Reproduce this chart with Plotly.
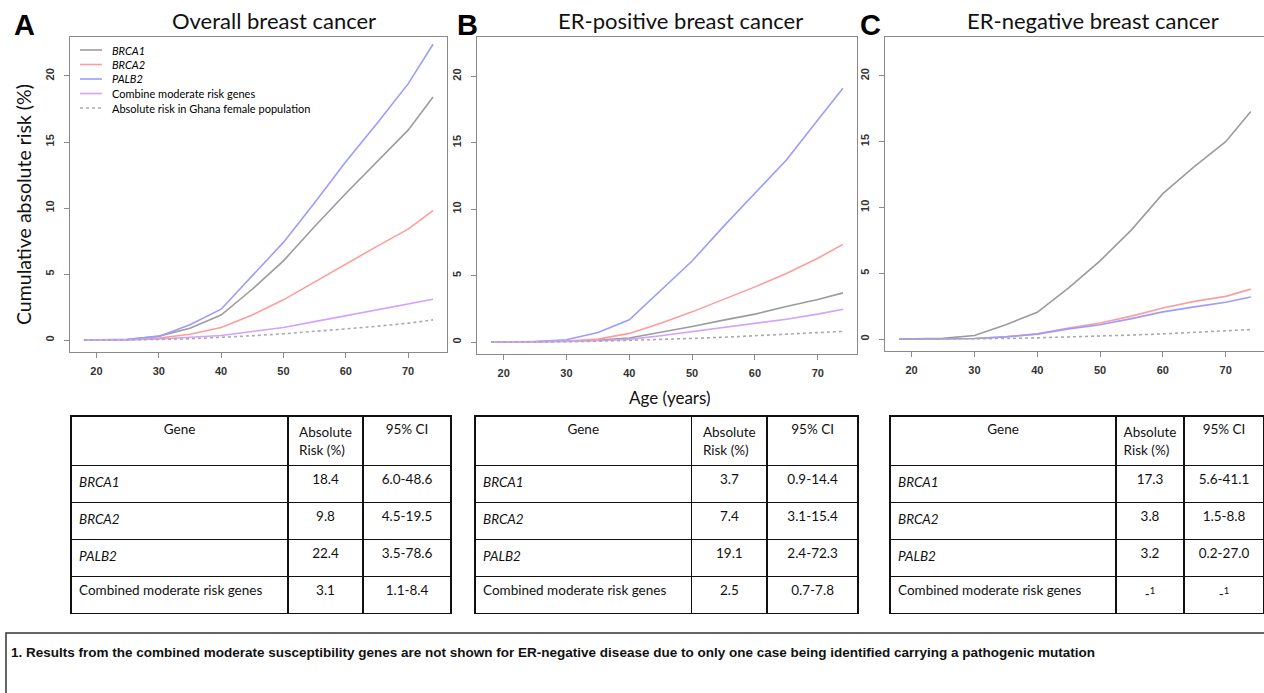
import plotly.graph_objects as go

W, H = 1264, 693

ages = [18, 20, 25, 30, 35, 40, 45, 50, 55, 60, 65, 70, 74]

# Panel A: overall breast cancer
a_brca1 = [0, 0.01, 0.05, 0.3, 0.9, 1.9, 3.85, 6.0, 8.6, 11.1, 13.5, 15.9, 18.4]
a_brca2 = [0, 0.01, 0.04, 0.15, 0.45, 0.96, 1.9, 3.05, 4.4, 5.8, 7.1, 8.4, 9.8]
a_palb2 = [0, 0.01, 0.06, 0.28, 1.16, 2.34, 4.85, 7.4, 10.4, 13.5, 16.4, 19.4, 22.4]
a_comb = [0, 0.0, 0.02, 0.08, 0.2, 0.35, 0.65, 0.95, 1.4, 1.85, 2.3, 2.7, 3.1]
a_ghana = [0, 0, 0.01, 0.05, 0.1, 0.2, 0.33, 0.48, 0.65, 0.85, 1.05, 1.28, 1.53]

# Panel B: ER-positive
b_brca1 = [0, 0, 0.02, 0.06, 0.15, 0.3, 0.72, 1.17, 1.65, 2.1, 2.67, 3.2, 3.7]
b_brca2 = [0, 0, 0.02, 0.08, 0.22, 0.65, 1.42, 2.27, 3.2, 4.15, 5.15, 6.3, 7.35]
b_palb2 = [0, 0, 0.03, 0.17, 0.72, 1.67, 3.85, 6.1, 8.7, 11.2, 13.7, 16.7, 19.1]
b_comb = [0, 0, 0.01, 0.05, 0.1, 0.2, 0.47, 0.77, 1.1, 1.42, 1.72, 2.1, 2.47]
b_ghana = [0, 0, 0.005, 0.02, 0.06, 0.12, 0.19, 0.27, 0.36, 0.47, 0.58, 0.69, 0.8]

# Panel C: ER-negative
c_brca1 = [0, 0.01, 0.06, 0.28, 1.1, 2.04, 3.9, 5.95, 8.3, 11.05, 13.1, 15.0, 17.3]
c_brca2 = [0, 0, 0.01, 0.05, 0.18, 0.4, 0.85, 1.23, 1.75, 2.37, 2.87, 3.25, 3.8]
c_palb2 = [0, 0, 0.01, 0.05, 0.17, 0.38, 0.78, 1.1, 1.56, 2.07, 2.45, 2.8, 3.2]
c_ghana = [0, 0, 0.005, 0.02, 0.05, 0.1, 0.16, 0.23, 0.31, 0.4, 0.5, 0.61, 0.73]

series_names = ["BRCA1", "BRCA2", "PALB2", "Combine moderate risk genes",
                "Absolute risk in Ghana female population"]
series_colors = ["#9c9c9c", "#ff9c9c", "#9c9cff", "#d2a2ff", "#aaaaaa"]
series_dash = ["solid", "solid", "solid", "solid", "dot"]

panel_titles = ["Overall breast cancer", "ER-positive breast cancer", "ER-negative breast cancer"]
panel_letters = ["A", "B", "C"]
x_ticks = [20, 30, 40, 50, 60, 70]
y_ticks = [0, 5, 10, 15, 20]

# Tables
table_header = ["Gene", "Absolute<br>Risk (%)", "95% CI"]
genes = ["<i>BRCA1</i>", "<i>BRCA2</i>", "<i>PALB2</i>", "Combined moderate risk genes"]
a_risk = ["18.4", "9.8", "22.4", "3.1"]
a_ci = ["6.0-48.6", "4.5-19.5", "3.5-78.6", "1.1-8.4"]
b_risk = ["3.7", "7.4", "19.1", "2.5"]
b_ci = ["0.9-14.4", "3.1-15.4", "2.4-72.3", "0.7-7.8"]
c_risk = ["17.3", "3.8", "3.2", "-<sup>1</sup>"]
c_ci = ["5.6-41.1", "1.5-8.8", "0.2-27.0", "-<sup>1</sup>"]

footnote = ("1. Results from the combined moderate susceptibility genes are not shown for "
            "ER-negative disease due to only one case being identified carrying a pathogenic mutation")


def px(x):
    return x / W


def py(y):
    return 1 - y / H


fig = go.Figure()

panels = [
    ("x", "y", [a_brca1, a_brca2, a_palb2, a_comb, a_ghana]),
    ("x2", "y2", [b_brca1, b_brca2, b_palb2, b_comb, b_ghana]),
    ("x3", "y3", [c_brca1, c_brca2, c_palb2, None, c_ghana]),
]
for xa, ya, data in panels:
    for i, vals in enumerate(data):
        if vals is None:
            continue
        fig.add_trace(go.Scatter(
            x=ages, y=vals, mode="lines", name=series_names[i], showlegend=False,
            line=dict(color=series_colors[i], width=1.6, dash=series_dash[i]),
            xaxis=xa, yaxis=ya, hoverinfo="skip"))

# axes
x_domains = [(70, 447), (477, 857), (885, 1264)]
x_ranges = [(15.76, 76.24), (15.76, 76.24), (15.76, 76.1)]
y_domains = [(37, 352), (37, 354), (37, 351)]
tickfont = dict(family="Liberation Sans", size=11, color="#333333", weight="bold")
axis_common = dict(showline=True, mirror=True, linecolor="#8a8a8a", linewidth=1,
                   ticks="outside", ticklen=5, tickcolor="#8a8a8a", showgrid=False,
                   zeroline=False, tickfont=tickfont)
for k in range(3):
    sx = "" if k == 0 else str(k + 1)
    fig.layout["xaxis" + sx] = dict(
        domain=[px(x_domains[k][0]), px(x_domains[k][1])], range=list(x_ranges[k]),
        anchor="y" + sx, tickvals=x_ticks, ticklabelstandoff=4, **axis_common)
    fig.layout["yaxis" + sx] = dict(
        domain=[py(y_domains[k][1]), py(y_domains[k][0])], range=[-0.9, 22.95],
        anchor="x" + sx, tickvals=y_ticks, tickangle=-90, ticklabelstandoff=6, **axis_common)

annotations = []
title_centers = [274, 680, 1093]
letter_centers = [24, 467, 870]
for k in range(3):
    annotations.append(dict(x=px(title_centers[k]), y=py(21), xref="paper", yref="paper",
                            text=panel_titles[k], showarrow=False, xanchor="center",
                            yanchor="middle",
                            font=dict(family="Lato", size=22, color="#111111")))
    annotations.append(dict(x=px(letter_centers[k]), y=py(25), xref="paper", yref="paper",
                            text=panel_letters[k], showarrow=False, xanchor="center",
                            yanchor="middle",
                            font=dict(family="Liberation Sans", size=29, color="#000000",
                                      weight="bold")))

annotations.append(dict(x=px(24), y=py(205), xref="paper", yref="paper",
                        text="Cumulative absolute risk (%)", textangle=-90, showarrow=False,
                        xanchor="center", yanchor="middle",
                        font=dict(family="Lato", size=19.5, color="#111111")))
annotations.append(dict(x=px(670), y=py(397), xref="paper", yref="paper",
                        text="Age (years)", showarrow=False, xanchor="center", yanchor="middle",
                        font=dict(family="Lato", size=17, color="#111111")))

# legend (panel A, top-left)
shapes = []
leg_y = [50, 64.5, 79, 93.5, 108]
for i, name in enumerate(series_names):
    shapes.append(dict(type="line", xref="paper", yref="paper",
                       x0=px(80), x1=px(102), y0=py(leg_y[i]), y1=py(leg_y[i]),
                       line=dict(color=series_colors[i], width=1.6, dash=series_dash[i])))
    label = "<i>" + name + "</i>" if i < 3 else name
    annotations.append(dict(x=px(110), y=py(leg_y[i]), xref="paper", yref="paper",
                            text=label, showarrow=False, xanchor="left", yanchor="middle",
                            font=dict(family="Lato", size=11, color="#000000")))

# tables
t_x = [(71, 451), (475, 859), (890, 1264)]
t_cols = [(217, 75, 88), (217, 76, 91), (226, 68, 80)]
t_data = [(a_risk, a_ci), (b_risk, b_ci), (c_risk, c_ci)]
for k in range(3):
    fig.add_trace(go.Table(
        domain=dict(x=[px(t_x[k][0]), px(t_x[k][1])], y=[py(630), py(416)]),
        columnwidth=list(t_cols[k]),
        header=dict(values=table_header, align="center", height=43,
                    line=dict(color="#111111", width=1.5), fill=dict(color="white"),
                    font=dict(family="Lato", size=13.5, color="#111111")),
        cells=dict(values=[genes, t_data[k][0], t_data[k][1]],
                   align=["left", "center", "center"], height=37,
                   line=dict(color="#111111", width=1.5), fill=dict(color="white"),
                   font=dict(family="Lato", size=13.5, color="#111111"))))

# footnote box
shapes.append(dict(type="rect", xref="paper", yref="paper", x0=px(6), x1=px(1270),
                   y0=py(700), y1=py(633), line=dict(color="#333333", width=1.5)))
annotations.append(dict(x=px(9), y=py(652), xref="paper", yref="paper", text=footnote,
                        showarrow=False, xanchor="left", yanchor="middle",
                        font=dict(family="Liberation Sans", size=13.5, color="#111111",
                                  weight="bold")))

fig.update_layout(width=W, height=H, margin=dict(l=0, r=0, t=0, b=0),
                  paper_bgcolor="white", plot_bgcolor="white", showlegend=False,
                  annotations=annotations, shapes=shapes)

fig.write_html("out.html", config={"displayModeBar": False},
               post_script="document.body.style.margin='0px';document.body.style.overflow='hidden';")
